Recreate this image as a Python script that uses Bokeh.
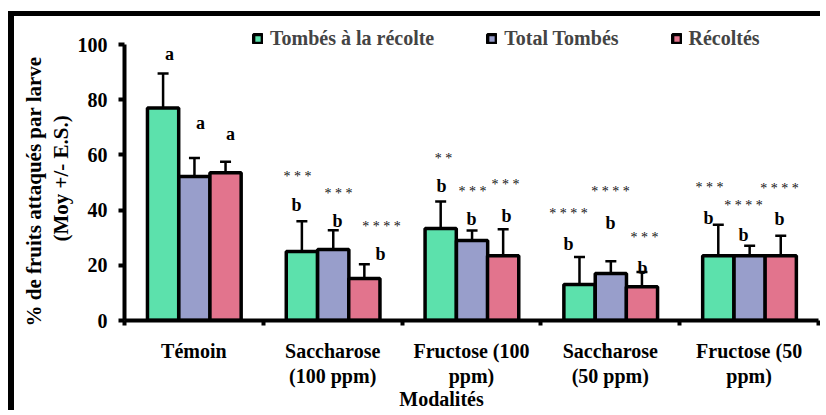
from bokeh.plotting import figure
from bokeh.models import (Range1d, FixedTicker, Legend, LegendItem, Whisker, TeeHead,
                          ColumnDataSource)
from bokeh.core.properties import value
from bokeh.embed import file_html
from bokeh.resources import INLINE

# ---------------- data ----------------
categories = ["Témoin", "Saccharose\n(100 ppm)", "Fructose (100\nppm)",
              "Saccharose\n(50 ppm)", "Fructose (50\nppm)"]
series_names = ["Tombés à la récolte", "Total Tombés", "Récoltés"]

tombes_recolte = [77.0, 25.0, 33.3, 13.0, 23.5]
tombes_recolte_err = [12.5, 11.0, 9.8, 10.0, 11.2]
total_tombes = [52.2, 25.7, 29.0, 17.0, 23.5]
total_tombes_err = [6.7, 7.0, 3.6, 4.5, 3.6]
recoltes = [53.5, 15.2, 23.5, 12.2, 23.5]
recoltes_err = [4.0, 5.2, 9.6, 5.4, 7.2]

letters_tombes_recolte = ["a", "b", "b", "b", "b"]
letters_total_tombes = ["a", "b", "b", "b", "b"]
letters_recoltes = ["a", "b", "b", "b", "b"]
stars_tombes_recolte = ["", "***", "**", "****", "***"]
stars_total_tombes = ["", "***", "***", "****", "****"]
stars_recoltes = ["", "****", "***", "***", "****"]

y_ticks = [0, 20, 40, 60, 80, 100]
y_title_1 = "%  de fruits attaqués par larve"
y_title_2 = "(Moy +/- E.S.)"
x_title = "Modalités"

# ---------------- styles / placement ----------------
colors = ["#5CE1AC", "#989ECB", "#E2748D"]
offsets = [-0.222, 0.004, 0.228]
bar_w = 0.225
serif = "Liberation Serif"
NB = "\u00a0"

# annotation placement: (dx letter, y letter, dx stars, y stars) per category
place_green = [(0.324, 96.5, 0, 0), (0.239, 41.8, 0.246, 53.3), (0.284, 48.6, 0.298, 59.8),
               (0.199, 27.6, 0.199, 39.9), (0.207, 37.0, 0.215, 49.3)]
place_blue = [(0.548, 71.5, 0, 0), (0.535, 36.0, 0.542, 47.0), (0.500, 36.7, 0.507, 47.8),
              (0.501, 35.2, 0.501, 47.8), (0.460, 30.9, 0.460, 42.8)]
place_red = [(0.764, 67.5, 0, 0), (0.844, 24.0, 0.852, 35.0), (0.752, 38.0, 0.745, 50.4),
             (0.732, 18.9, 0.746, 31.2), (0.719, 36.7, 0.719, 48.9)]

p = figure(width=812, height=399, x_range=Range1d(0, 5), y_range=Range1d(0, 108.7),
           output_backend="svg", toolbar_location=None,
           min_border_left=110, min_border_right=8, min_border_top=4, min_border_bottom=95)
p.title.visible = False
p.title.standoff = 0
p.margin = (11, 0, 0, 8)
p.styles = {"border-top": "5px solid black", "border-left": "6px solid black"}
p.outline_line_color = None
p.xgrid.grid_line_color = None
p.ygrid.grid_line_color = None
p.background_fill_color = "white"
p.border_fill_color = "white"

series_vals = [tombes_recolte, total_tombes, recoltes]
series_errs = [tombes_recolte_err, total_tombes_err, recoltes_err]
series_letters = [letters_tombes_recolte, letters_total_tombes, letters_recoltes]
series_stars = [stars_tombes_recolte, stars_total_tombes, stars_recoltes]
series_place = [place_green, place_blue, place_red]

items = []
for k in range(3):
    xs = [i + 0.5 + offsets[k] for i in range(len(categories))]
    vals = series_vals[k]
    errs = series_errs[k]
    src = ColumnDataSource(dict(x=xs, top=vals,
                                upper=[v + e for v, e in zip(vals, errs)],
                                lower=[v - e for v, e in zip(vals, errs)]))
    r = p.vbar(x="x", top="top", width=bar_w, bottom=0, source=src,
               fill_color=colors[k], line_color="black", line_width=3.5)
    items.append(LegendItem(label=series_names[k], renderers=[r]))
    w = Whisker(base="x", upper="upper", lower="lower", source=src,
                line_color="black", line_width=2.5,
                upper_head=TeeHead(size=11, line_width=2.5, line_color="black"),
                lower_head=TeeHead(size=11, line_width=2.5, line_color="black"))
    p.add_layout(w)

    lx, ly, sx, sy, lt, st = [], [], [], [], [], []
    for i in range(len(categories)):
        dxl, yl, dxs, ys = series_place[k][i]
        lx.append(i + dxl); ly.append(yl); lt.append(series_letters[k][i])
        if series_stars[k][i]:
            sx.append(i + dxs); sy.append(ys - 1.0); st.append(" ".join(series_stars[k][i]))
    p.text(x=lx, y=ly, text=lt, text_font=value(serif), text_font_style="bold",
           text_font_size="18px", text_align="center", text_baseline="middle", text_color="black")
    p.text(x=sx, y=sy, text=st, text_font=value(serif), text_font_size="14px",
           text_align="center", text_baseline="middle", text_color="#111111")

legend = Legend(items=items, location=(128, 270), orientation="horizontal",
                padding=0, margin=0, spacing=52, glyph_width=11, glyph_height=11,
                label_standoff=7, label_text_font=serif, label_text_font_style="bold",
                label_text_font_size="20px", label_text_baseline="middle",
                border_line_color=None, background_fill_alpha=0)
p.add_layout(legend)

# y axis
yax = p.yaxis[0]
yax.ticker = FixedTicker(ticks=y_ticks)
yax.bounds = (0, 100)
yax.axis_line_width = 4
yax.major_tick_line_width = 4
yax.major_tick_out = 6
yax.major_tick_in = 0
yax.minor_tick_line_color = None
yax.major_label_standoff = 11
yax.major_label_text_font = serif
yax.major_label_text_font_style = "bold"
yax.major_label_text_font_size = "20px"
yax.major_label_text_color = "black"
yax.axis_label = y_title_1 + NB * 7 + "\n" + y_title_2 + NB * 3
yax.axis_label_standoff = 2
yax.axis_label_text_font = serif
yax.axis_label_text_font_style = "bold"
yax.axis_label_text_font_size = "21px"
yax.axis_label_text_line_height = 1.1
yax.axis_label_text_color = "black"

# x axis
xax = p.xaxis[0]
xax.ticker = FixedTicker(ticks=[i + 0.5 for i in range(len(categories))],
                         minor_ticks=list(range(len(categories) + 1)))
xax.major_label_overrides = {i + 0.5: c for i, c in enumerate(categories)}
xax.axis_line_width = 4
xax.major_tick_line_color = None
xax.major_tick_out = 0
xax.major_tick_in = 0
xax.minor_tick_out = 5
xax.minor_tick_in = 0
xax.minor_tick_line_width = 4
xax.major_label_standoff = 14
xax.major_label_text_font = serif
xax.major_label_text_font_style = "bold"
xax.major_label_text_font_size = "20px"
xax.major_label_text_line_height = 1.15
xax.major_label_text_color = "black"
xax.axis_label = x_title + NB * 12
xax.axis_label_standoff = -2
xax.axis_label_text_font = serif
xax.axis_label_text_font_style = "bold"
xax.axis_label_text_font_size = "20px"
xax.axis_label_text_color = "black"

open("out.html", "w").write(file_html(p, INLINE))
